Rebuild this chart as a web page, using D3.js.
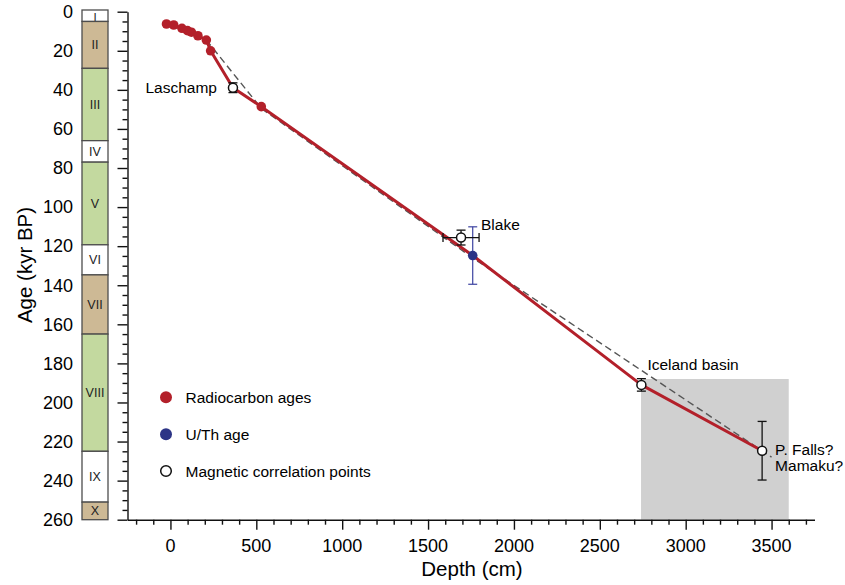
<!DOCTYPE html>
<html><head><meta charset="utf-8">
<script src="https://cdn.jsdelivr.net/npm/d3@7"></script>
<style>body{margin:0;background:#fff}svg{display:block;font-family:"Liberation Sans",Arial,Helvetica,sans-serif}</style>
</head><body><svg id="c" width="845" height="585"></svg>
<script>
// ---- data ----
const radiocarbonDepth = [-23, 19, 67, 99, 122, 160, 209, 234, 529];
const radiocarbonAge   = [6.3, 6.8, 8.5, 9.7, 10.5, 12.3, 14.5, 20, 48.6];
const uthDepth = [1760];
const uthAge = [124.8];
const uthErr = [14.7];
const magNames = ["Laschamp", "Blake", "Iceland basin", "P. Falls?"];
const magDepth = [364, 1692, 2742, 3445];
const magAge   = [38.9, 115.6, 191, 224.7];
const magAgeErr = [2.5, 3.8, 3.2, 15];
const magDepthErr = [0, 105, 0, 0];
const modelDepth = [-23, 19, 67, 99, 122, 160, 209, 234, 364, 529, 1760, 2742, 3445];
const modelAge   = [6.3, 6.8, 8.5, 9.7, 10.5, 12.3, 14.5, 20, 38.9, 48.6, 124.8, 191, 224.7];
const dashDepth = [209, 529, 1760, 3500];
const dashAge   = [14.5, 49.5, 126, 228];
const stageNames = ["I","II","III","IV","V","VI","VII","VIII","IX","X"];
const stageTop   = [0, 5, 29, 66, 77, 119.3, 134.7, 165, 225, 251];
const stageBot   = [5, 29, 66, 77, 119.3, 134.7, 165, 225, 251, 260];
const stageKind  = ["w","t","g","w","g","w","t","g","w","t"];
const shadeDepth = [2740, 3600];
const shadeAge = [188, 260];
const xTicks = [0, 500, 1000, 1500, 2000, 2500, 3000, 3500];
const yTicks = [0,20,40,60,80,100,120,140,160,180,200,220,240,260];
const legendLabels = ["Radiocarbon ages", "U/Th age", "Magnetic correlation points"];

// ---- drawing ----
const svg = d3.select("#c");
const x = d3.scaleLinear().domain([-250, 3750]).range([127.5, 814.5]);
const y = d3.scaleLinear().domain([0, 260]).range([11.7, 519.7]);
const RED = "#b3202a", BLUE = "#2c3486";
const kindColor = {w:"#ffffff", t:"#cdb995", g:"#c3d99f"};

// shaded box
svg.append("rect").attr("x", x(shadeDepth[0])).attr("y", y(shadeAge[0]))
  .attr("width", x(shadeDepth[1]) - x(shadeDepth[0])).attr("height", y(shadeAge[1]) - y(shadeAge[0]))
  .attr("fill", "#d0d0d0");

// stage column
const col = svg.append("g");
stageNames.forEach((n, i) => {
  col.append("rect").attr("x", 82).attr("width", 26)
    .attr("y", y(stageTop[i]) - (i === 0 ? 1.7 : 0))
    .attr("height", y(stageBot[i]) - y(stageTop[i]) + (i === 0 ? 1.7 : 0))
    .attr("fill", kindColor[stageKind[i]]).attr("stroke", "#4d4d4d").attr("stroke-width", 1.3);
  col.append("text").attr("x", 95).attr("y", (y(stageTop[i]) + y(stageBot[i])) / 2 + 4.3)
    .attr("text-anchor", "middle").attr("font-size", i === 0 ? 11.5 : 12.5).attr("fill", "#222").text(n);
});

// axes
const yAxis = svg.append("g").attr("transform", "translate(127.5,0)");
yAxis.call(d3.axisLeft(y).tickValues(d3.range(0, 261, 5)).tickSize(5).tickFormat("").tickSizeOuter(0));
yAxis.selectAll(".tick line").filter(d => d % 20 === 0).attr("x2", -10);
yAxis.selectAll("line,path").attr("stroke", "#111").attr("stroke-width", 1.4);
svg.append("g").selectAll("text").data(yTicks).join("text")
  .attr("x", 73).attr("y", d => y(d) + 6.3).attr("text-anchor", "end")
  .attr("font-size", 18).attr("fill", "#000").text(d => d);

const xAxis = svg.append("g").attr("transform", "translate(0,519.7)");
xAxis.call(d3.axisBottom(x).tickValues(d3.range(-200, 3701, 100)).tickSize(5).tickFormat("").tickSizeOuter(0));
xAxis.selectAll(".tick line").filter(d => d % 500 === 0).attr("y2", 10);
xAxis.selectAll("line,path").attr("stroke", "#111").attr("stroke-width", 1.4);
svg.append("g").selectAll("text").data(xTicks).join("text")
  .attr("x", d => x(d)).attr("y", 552).attr("text-anchor", "middle")
  .attr("font-size", 18).attr("fill", "#000").text(d => d);

svg.append("text").attr("x", 472).attr("y", 576).attr("text-anchor", "middle")
  .attr("font-size", 20.5).attr("fill", "#000").text("Depth (cm)");
svg.append("text").attr("transform", "translate(32,265) rotate(-90)").attr("text-anchor", "middle")
  .attr("font-size", 20.5).attr("fill", "#000").text("Age (kyr BP)");

// dashed line
const line = d3.line().x(d => x(d[0])).y(d => y(d[1]));
svg.append("path").attr("d", line(dashDepth.map((d, i) => [d, dashAge[i]])))
  .attr("fill", "none").attr("stroke", "#555").attr("stroke-width", 1.4).attr("stroke-dasharray", "7,4");

// age model line
svg.append("path").attr("d", line(modelDepth.map((d, i) => [d, modelAge[i]])))
  .attr("fill", "none").attr("stroke", RED).attr("stroke-width", 3).attr("stroke-linejoin", "round");

// radiocarbon points
svg.append("g").selectAll("circle").data(radiocarbonDepth).join("circle")
  .attr("cx", d => x(d)).attr("cy", (d, i) => y(radiocarbonAge[i])).attr("r", 4.8).attr("fill", RED);

// U/Th
uthDepth.forEach((d, i) => {
  const g = svg.append("g").attr("stroke", "#3c42a0").attr("stroke-width", 1.2);
  g.append("line").attr("x1", x(d)).attr("x2", x(d)).attr("y1", y(uthAge[i] - uthErr[i])).attr("y2", y(uthAge[i] + uthErr[i]));
  [-1, 1].forEach(s => g.append("line").attr("x1", x(d) - 4.5).attr("x2", x(d) + 4.5)
    .attr("y1", y(uthAge[i] + s * uthErr[i])).attr("y2", y(uthAge[i] + s * uthErr[i])));
  svg.append("circle").attr("cx", x(d)).attr("cy", y(uthAge[i])).attr("r", 4.8).attr("fill", BLUE);
});

// magnetic points
magDepth.forEach((d, i) => {
  const g = svg.append("g").attr("stroke", "#111").attr("stroke-width", 1.3);
  const cx = x(d), cy = y(magAge[i]);
  if (magAgeErr[i] > 0) {
    g.append("line").attr("x1", cx).attr("x2", cx).attr("y1", y(magAge[i] - magAgeErr[i])).attr("y2", y(magAge[i] + magAgeErr[i]));
    [-1, 1].forEach(s => g.append("line").attr("x1", cx - 4.5).attr("x2", cx + 4.5)
      .attr("y1", y(magAge[i] + s * magAgeErr[i])).attr("y2", y(magAge[i] + s * magAgeErr[i])));
  }
  if (magDepthErr[i] > 0) {
    g.append("line").attr("x1", x(d - magDepthErr[i])).attr("x2", x(d + magDepthErr[i])).attr("y1", cy).attr("y2", cy);
    [-1, 1].forEach(s => g.append("line").attr("x1", x(d + s * magDepthErr[i])).attr("x2", x(d + s * magDepthErr[i]))
      .attr("y1", cy - 4.5).attr("y2", cy + 4.5));
  }
  svg.append("circle").attr("cx", cx).attr("cy", cy).attr("r", 4.5)
    .attr("fill", "#fff").attr("stroke", "#111").attr("stroke-width", 1.5);
});

// annotations
const ann = svg.append("g").attr("font-size", 15.5).attr("fill", "#000");
ann.append("text").attr("x", x(magDepth[0]) - 16).attr("y", y(magAge[0]) + 5.5).attr("text-anchor", "end").text(magNames[0]);
ann.append("text").attr("x", x(magDepth[1]) + 20).attr("y", y(magAge[1]) - 7.5).text(magNames[1]);
ann.append("text").attr("x", x(magDepth[2]) + 6).attr("y", y(magAge[2]) - 14.5).text(magNames[2]);
ann.append("text").attr("x", x(magDepth[3]) + 13).attr("y", y(magAge[3]) + 4).text(magNames[3]);
ann.append("text").attr("x", x(magDepth[3]) + 13).attr("y", y(magAge[3]) + 20.7).text("Mamaku?");

// legend
const lg = svg.append("g");
const ly = [397.3, 434.3, 471];
lg.append("circle").attr("cx", 166).attr("cy", ly[0]).attr("r", 6).attr("fill", RED);
lg.append("circle").attr("cx", 166).attr("cy", ly[1]).attr("r", 6).attr("fill", BLUE);
lg.append("circle").attr("cx", 166).attr("cy", ly[2]).attr("r", 5.3).attr("fill", "#fff").attr("stroke", "#111").attr("stroke-width", 1.5);
lg.selectAll("text").data(legendLabels).join("text")
  .attr("x", 185.5).attr("y", (d, i) => ly[i] + 5.8).attr("font-size", 15.5).attr("fill", "#000").text(d => d);
</script></body></html>
